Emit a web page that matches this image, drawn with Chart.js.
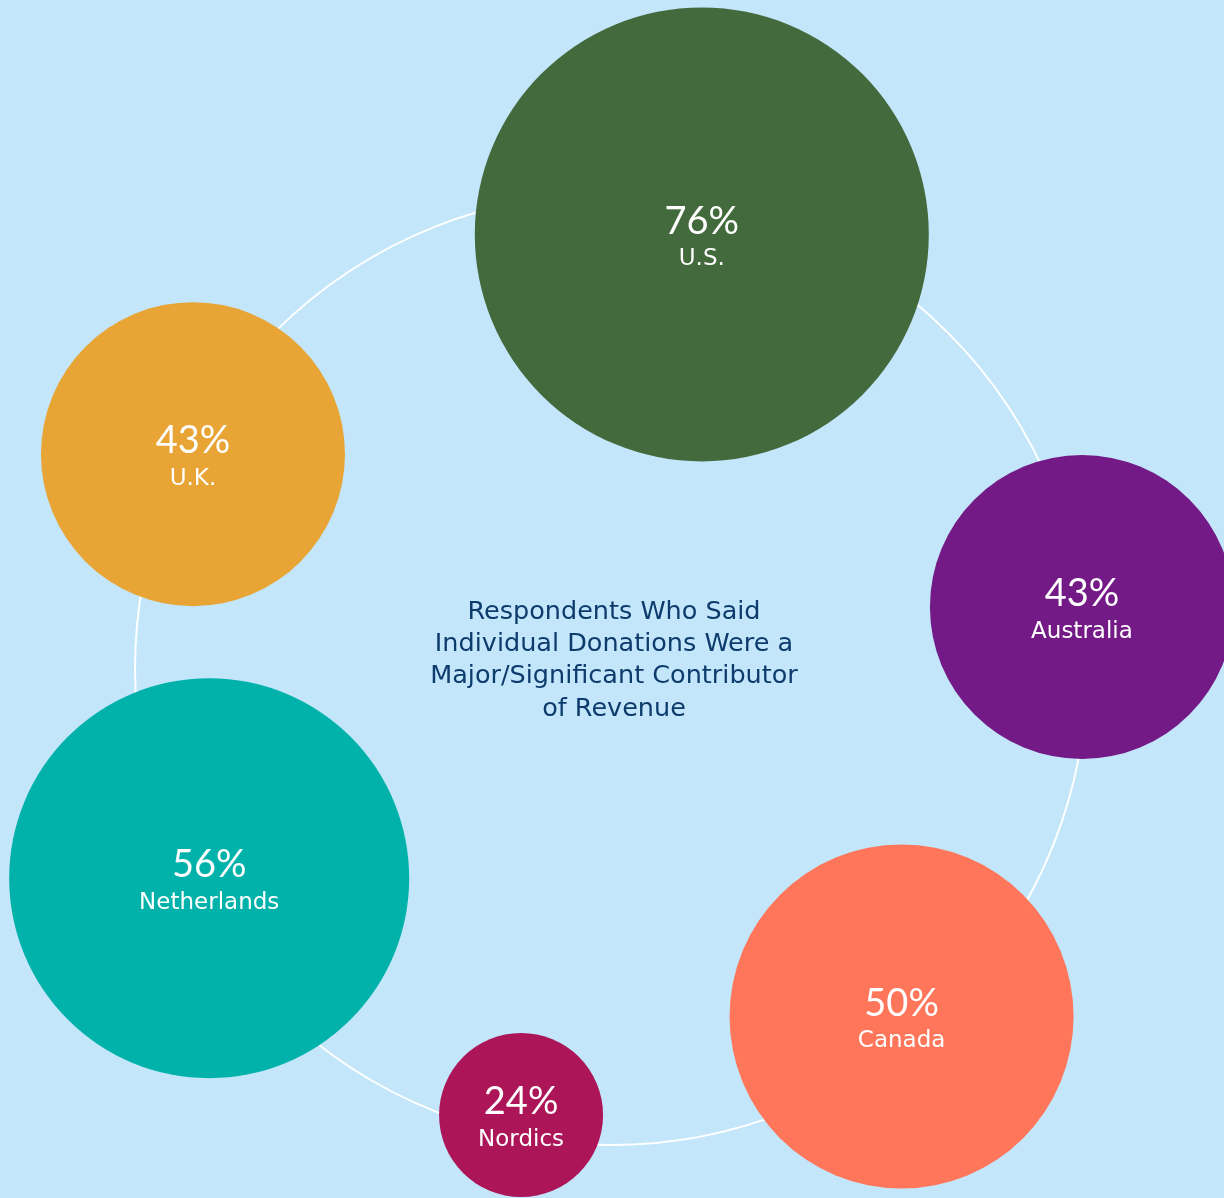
<!DOCTYPE html>
<html>
<head>
<meta charset="utf-8">
<script src="https://cdn.jsdelivr.net/npm/chart.js@4/dist/chart.umd.min.js"></script>
<style>
  html, body { margin: 0; padding: 0; background: #C3E6FB; }
  #wrap { width: 1224px; height: 1198px; }
</style>
</head>
<body>
<div id="wrap"><canvas id="chart"></canvas></div>
<script>
// Share of respondents citing individual donations as a major/significant revenue source
const countries = ['U.S.', 'Australia', 'Canada', 'Nordics', 'Netherlands', 'U.K.'];
const shares = [76, 43, 50, 24, 56, 43];

// Placement around the ring: angle (degrees, counter-clockwise from east) and distance from centre
const ringAngles = [78.2, 7.5, -50.1, -101.4, -152.5, 152.8];
const ringDistance = [444, 475, 453, 455, 453, 470];
// Bubble radius in pixels
const bubbleRadius = [227, 152, 172, 82, 200, 152];
const bubbleColors = ['#436A3C', '#731A87', '#FF765A', '#AC1558', '#00B2AA', '#E8A535'];

const titleLines = [
  'Respondents Who Said',
  'Individual Donations Were a',
  'Major/Significant Contributor',
  'of Revenue'
];

const RING = 476;       // radius of the white ring
const VALUE_FONT = 'Lato, "Open Sans", sans-serif';
const TEXT_FONT = '"DejaVu Sans", Lato, sans-serif';

// bubbles may run off the canvas edge; keep the plot area at full size
Chart.BubbleController.prototype.getMaxOverflow = function () { return 0; };

const points = countries.map((c, i) => {
  const a = ringAngles[i] * Math.PI / 180;
  return { x: ringDistance[i] * Math.cos(a), y: ringDistance[i] * Math.sin(a), r: bubbleRadius[i] };
});

const ringPlugin = {
  id: 'ring',
  beforeDatasetsDraw(chart) {
    const { ctx, scales: { x, y } } = chart;
    const cx = x.getPixelForValue(0), cy = y.getPixelForValue(0);
    const rr = x.getPixelForValue(RING) - cx;
    ctx.save();
    ctx.strokeStyle = '#FFFFFF';
    ctx.lineWidth = 2;
    ctx.beginPath();
    ctx.arc(cx, cy, rr, 0, Math.PI * 2);
    ctx.stroke();
    ctx.restore();
  }
};

const labelPlugin = {
  id: 'bubbleLabels',
  afterDatasetsDraw(chart) {
    const { ctx, scales: { x, y } } = chart;
    const meta = chart.getDatasetMeta(0);
    ctx.save();
    ctx.textAlign = 'center';
    ctx.textBaseline = 'middle';
    ctx.fillStyle = '#FFFFFF';
    meta.data.forEach((el, i) => {
      ctx.font = '38px ' + VALUE_FONT;
      ctx.fillText(shares[i] + '%', el.x, el.y - 13);
      ctx.font = '23px ' + TEXT_FONT;
      ctx.fillText(countries[i], el.x, el.y + 25);
    });
    // centre title
    const cx = x.getPixelForValue(0) + 3, cy = y.getPixelForValue(0);
    ctx.fillStyle = '#0C3B6C';
    ctx.font = '25.5px ' + TEXT_FONT;
    titleLines.forEach((line, i) => {
      ctx.fillText(line, cx, cy - 57 + i * 32.3);
    });
    ctx.restore();
  }
};

new Chart(document.getElementById('chart'), {
  type: 'bubble',
  data: {
    labels: countries,
    datasets: [{
      data: points,
      backgroundColor: bubbleColors,
      borderWidth: 0,
      hoverBorderWidth: 0,
      clip: false
    }]
  },
  options: {
    responsive: true,
    maintainAspectRatio: false,
    animation: false,
    layout: { padding: 0 },
    plugins: {
      legend: { display: false },
      tooltip: { enabled: false }
    },
    scales: {
      x: { type: 'linear', min: -611, max: 613, display: false },
      y: { type: 'linear', min: -529, max: 669, display: false }
    }
  },
  plugins: [ringPlugin, labelPlugin]
});
</script>
</body>
</html>
